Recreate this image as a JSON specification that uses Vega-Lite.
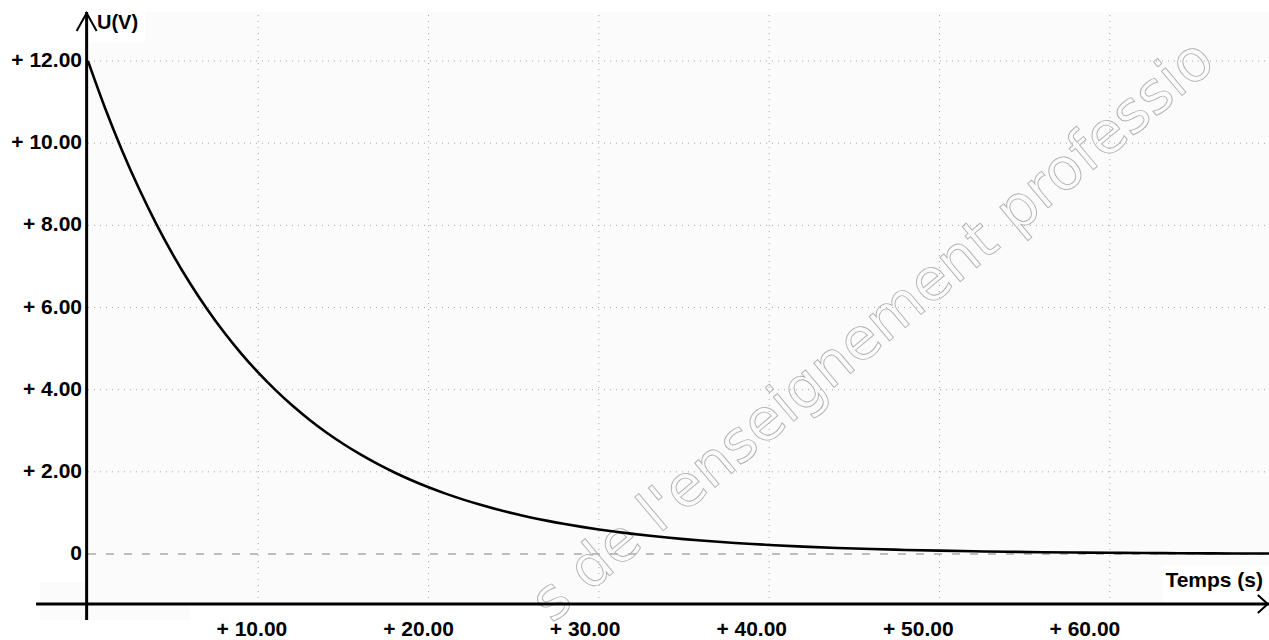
{
  "$schema": "https://vega.github.io/schema/vega-lite/v6.json",
  "width": 1269,
  "height": 640,
  "autosize": "none",
  "padding": 0,
  "background": "white",
  "config": {"view": {"stroke": null}, "axis": {"disable": true}, "text": {"font": "Liberation Sans"}},
  "resolve": {"scale": {"x": "independent"}},
  "datasets": {
    "curve": [
      {"t": 0, "u": 12.0}, {"t": 1, "u": 10.858}, {"t": 2, "u": 9.825}, {"t": 3, "u": 8.89}, {"t": 4, "u": 8.044},
      {"t": 5, "u": 7.278}, {"t": 6, "u": 6.586}, {"t": 7, "u": 5.959}, {"t": 8, "u": 5.392}, {"t": 9, "u": 4.879},
      {"t": 10, "u": 4.415}, {"t": 11, "u": 3.995}, {"t": 12, "u": 3.614}, {"t": 13, "u": 3.27}, {"t": 14, "u": 2.959},
      {"t": 15, "u": 2.678}, {"t": 16, "u": 2.423}, {"t": 17, "u": 2.192}, {"t": 18, "u": 1.984}, {"t": 19, "u": 1.795},
      {"t": 20, "u": 1.624}, {"t": 21, "u": 1.47}, {"t": 22, "u": 1.33}, {"t": 23, "u": 1.203}, {"t": 24, "u": 1.089},
      {"t": 25, "u": 0.985}, {"t": 26, "u": 0.891}, {"t": 27, "u": 0.806}, {"t": 28, "u": 0.73}, {"t": 29, "u": 0.66},
      {"t": 30, "u": 0.597}, {"t": 31, "u": 0.541}, {"t": 32, "u": 0.489}, {"t": 33, "u": 0.443}, {"t": 34, "u": 0.4},
      {"t": 35, "u": 0.362}, {"t": 36, "u": 0.328}, {"t": 37, "u": 0.297}, {"t": 38, "u": 0.268}, {"t": 39, "u": 0.243},
      {"t": 40, "u": 0.22}, {"t": 42, "u": 0.18}, {"t": 44, "u": 0.147}, {"t": 46, "u": 0.121}, {"t": 48, "u": 0.099},
      {"t": 50, "u": 0.081}, {"t": 52, "u": 0.066}, {"t": 54, "u": 0.054}, {"t": 56, "u": 0.044}, {"t": 58, "u": 0.036},
      {"t": 60, "u": 0.03}, {"t": 62, "u": 0.024}, {"t": 64, "u": 0.02}, {"t": 66, "u": 0.016}, {"t": 68, "u": 0.013},
      {"t": 69.35, "u": 0.012}
    ],
    "xticks": [
      {"t": 10, "lab": "+ 10.00"}, {"t": 20, "lab": "+ 20.00"}, {"t": 30, "lab": "+ 30.00"},
      {"t": 40, "lab": "+ 40.00"}, {"t": 50, "lab": "+ 50.00"}, {"t": 60, "lab": "+ 60.00"}
    ],
    "yticks": [
      {"u": 0, "lab": "0"}, {"u": 2, "lab": "+ 2.00"}, {"u": 4, "lab": "+ 4.00"}, {"u": 6, "lab": "+ 6.00"},
      {"u": 8, "lab": "+ 8.00"}, {"u": 10, "lab": "+ 10.00"}, {"u": 12, "lab": "+ 12.00"}
    ],
    "ygrid": [{"u": 2}, {"u": 4}, {"u": 6}, {"u": 8}, {"u": 10}, {"u": 12}],
    "one": [{}]
  },
  "layer": [
    {
      "data": {"name": "one"},
      "mark": {"type": "rect", "color": "#fbfbfb"},
      "encoding": {
        "x": {"datum": 0, "type": "quantitative", "scale": {"domain": [-5.167, 69.35], "nice": false, "zero": false}},
        "x2": {"datum": 69.35},
        "y": {"datum": -1.217, "type": "quantitative", "scale": {"domain": [-2.0935, 13.486], "nice": false, "zero": false}},
        "y2": {"datum": 13.194}
      }
    },
    {
      "data": {"name": "one"},
      "mark": {"type": "rect", "color": "#fbfbfb"},
      "encoding": {
        "x": {"datum": -2.82, "type": "quantitative", "scale": {"domain": [-5.167, 69.35], "nice": false, "zero": false}},
        "x2": {"datum": 5.99},
        "y": {"datum": -1.607, "type": "quantitative", "scale": {"domain": [-2.0935, 13.486], "nice": false, "zero": false}},
        "y2": {"datum": -0.682}
      }
    },
    {
      "data": {"name": "one"},
      "mark": {"type": "rect", "color": "#ffffff"},
      "encoding": {
        "x": {"datum": -2.82, "type": "quantitative", "scale": {"domain": [-5.167, 69.35], "nice": false, "zero": false}},
        "x2": {"datum": 3.35},
        "y": {"datum": 12.44, "type": "quantitative", "scale": {"domain": [-2.0935, 13.486], "nice": false, "zero": false}},
        "y2": {"datum": 13.3}
      }
    },
    {
      "data": {"name": "one"},
      "mark": {"type": "rect", "color": "#ffffff"},
      "encoding": {
        "x": {"datum": 63.1, "type": "quantitative", "scale": {"domain": [-5.167, 69.35], "nice": false, "zero": false}},
        "x2": {"datum": 69.35},
        "y": {"datum": -1.217, "type": "quantitative", "scale": {"domain": [-2.0935, 13.486], "nice": false, "zero": false}},
        "y2": {"datum": -0.268}
      }
    },
    {
      "data": {"name": "xticks"},
      "mark": {"type": "rule", "color": "#a8a8a8", "strokeWidth": 1, "strokeDash": [1, 5]},
      "encoding": {
        "x": {"field": "t", "type": "quantitative", "scale": {"domain": [-5.167, 69.35], "nice": false, "zero": false}},
        "y": {"datum": -1.217, "type": "quantitative", "scale": {"domain": [-2.0935, 13.486], "nice": false, "zero": false}},
        "y2": {"datum": 13.194}
      }
    },
    {
      "data": {"name": "ygrid"},
      "mark": {"type": "rule", "color": "#a8a8a8", "strokeWidth": 1, "strokeDash": [1, 5]},
      "encoding": {
        "x": {"datum": 0, "type": "quantitative", "scale": {"domain": [-5.167, 69.35], "nice": false, "zero": false}},
        "x2": {"datum": 69.35},
        "y": {"field": "u", "type": "quantitative", "scale": {"domain": [-2.0935, 13.486], "nice": false, "zero": false}}
      }
    },
    {
      "data": {"name": "one"},
      "mark": {"type": "rule", "color": "#808080", "strokeWidth": 1, "strokeDash": [8, 10]},
      "encoding": {
        "x": {"datum": 0, "type": "quantitative", "scale": {"domain": [-5.167, 69.35], "nice": false, "zero": false}},
        "x2": {"datum": 69.35},
        "y": {"datum": 0, "type": "quantitative", "scale": {"domain": [-2.0935, 13.486], "nice": false, "zero": false}}
      }
    },
    {
      "data": {"values": [{"txt": "s de l'enseignement professio"}]},
      "mark": {"type": "text", "font": "DejaVu Sans", "fontSize": 58, "angle": -40, "align": "left", "baseline": "alphabetic", "fill": "#ffffff", "fillOpacity": 0, "stroke": "#b0b0b0", "strokeWidth": 0.9},
      "encoding": {
        "x": {"datum": 27.25, "type": "quantitative", "scale": {"domain": [-5.167, 69.35], "nice": false, "zero": false}},
        "y": {"datum": -1.704, "type": "quantitative", "scale": {"domain": [-2.0935, 13.486], "nice": false, "zero": false}},
        "text": {"field": "txt"}
      }
    },
    {
      "data": {"name": "curve"},
      "mark": {"type": "line", "color": "#000000", "strokeWidth": 2.6, "interpolate": "monotone"},
      "encoding": {
        "x": {"field": "t", "type": "quantitative", "scale": {"domain": [-5.167, 69.35], "nice": false, "zero": false}},
        "y": {"field": "u", "type": "quantitative", "scale": {"domain": [-2.0935, 13.486], "nice": false, "zero": false}}
      }
    },
    {
      "data": {"name": "one"},
      "mark": {"type": "rule", "color": "#000000", "strokeWidth": 3},
      "encoding": {
        "x": {"datum": -0.08, "type": "quantitative", "scale": {"domain": [-5.167, 69.35], "nice": false, "zero": false}},
        "y": {"datum": -1.607, "type": "quantitative", "scale": {"domain": [-2.0935, 13.486], "nice": false, "zero": false}},
        "y2": {"datum": 13.194}
      }
    },
    {
      "data": {"name": "one"},
      "mark": {"type": "rule", "color": "#000000", "strokeWidth": 3},
      "encoding": {
        "x": {"datum": -3.05, "type": "quantitative", "scale": {"domain": [-5.167, 69.35], "nice": false, "zero": false}},
        "x2": {"datum": 69.35},
        "y": {"datum": -1.217, "type": "quantitative", "scale": {"domain": [-2.0935, 13.486], "nice": false, "zero": false}}
      }
    },
    {
      "data": {"name": "one"},
      "mark": {"type": "point", "shape": "M-1,1.8L0,0L1,1.8", "filled": false, "size": 400, "stroke": "#000000", "strokeWidth": 2, "opacity": 1},
      "encoding": {
        "x": {"datum": -0.08, "type": "quantitative", "scale": {"domain": [-5.167, 69.35], "nice": false, "zero": false}},
        "y": {"datum": 13.17, "type": "quantitative", "scale": {"domain": [-2.0935, 13.486], "nice": false, "zero": false}}
      }
    },
    {
      "data": {"name": "one"},
      "mark": {"type": "point", "shape": "M-1,-0.9L0,0L-1,0.9", "filled": false, "size": 400, "stroke": "#000000", "strokeWidth": 2, "opacity": 1},
      "encoding": {
        "x": {"datum": 69.28, "type": "quantitative", "scale": {"domain": [-5.167, 69.35], "nice": false, "zero": false}},
        "y": {"datum": -1.217, "type": "quantitative", "scale": {"domain": [-2.0935, 13.486], "nice": false, "zero": false}}
      }
    },
    {
      "data": {"name": "yticks"},
      "mark": {"type": "text", "fontSize": 21, "fontWeight": "bold", "align": "right", "baseline": "middle", "color": "#000000"},
      "encoding": {
        "x": {"datum": -0.352, "type": "quantitative", "scale": {"domain": [-5.167, 69.35], "nice": false, "zero": false}},
        "y": {"field": "u", "type": "quantitative", "scale": {"domain": [-2.0935, 13.486], "nice": false, "zero": false}},
        "text": {"field": "lab"}
      }
    },
    {
      "data": {"name": "xticks"},
      "mark": {"type": "text", "fontSize": 21, "fontWeight": "bold", "align": "left", "baseline": "middle", "color": "#000000"},
      "encoding": {
        "x": {"field": "t", "type": "quantitative", "scale": {"domain": [-3.001, 73.17], "nice": false, "zero": false}},
        "y": {"datum": -1.838, "type": "quantitative", "scale": {"domain": [-2.0935, 13.486], "nice": false, "zero": false}},
        "text": {"field": "lab"}
      }
    },
    {
      "data": {"values": [{"txt": "U(V)"}]},
      "mark": {"type": "text", "fontSize": 20, "fontWeight": "bold", "align": "left", "baseline": "middle", "color": "#000000"},
      "encoding": {
        "x": {"datum": 0.528, "type": "quantitative", "scale": {"domain": [-5.167, 69.35], "nice": false, "zero": false}},
        "y": {"datum": 12.914, "type": "quantitative", "scale": {"domain": [-2.0935, 13.486], "nice": false, "zero": false}},
        "text": {"field": "txt"}
      }
    },
    {
      "data": {"values": [{"txt": "Temps (s)"}]},
      "mark": {"type": "text", "fontSize": 21, "fontWeight": "bold", "align": "right", "baseline": "middle", "color": "#000000"},
      "encoding": {
        "x": {"datum": 69.0, "type": "quantitative", "scale": {"domain": [-5.167, 69.35], "nice": false, "zero": false}},
        "y": {"datum": -0.657, "type": "quantitative", "scale": {"domain": [-2.0935, 13.486], "nice": false, "zero": false}},
        "text": {"field": "txt"}
      }
    }
  ]
}
